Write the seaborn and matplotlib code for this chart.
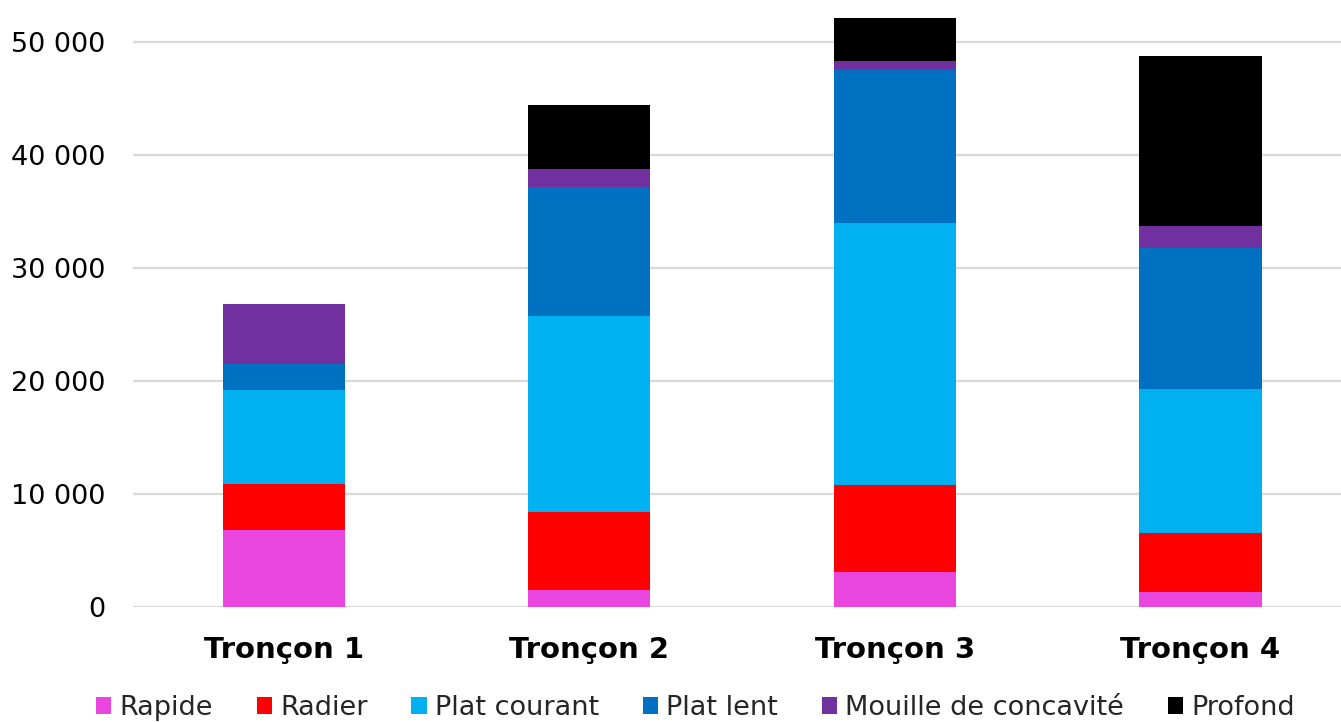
import matplotlib
matplotlib.use("Agg")
import matplotlib.pyplot as plt
import matplotlib.ticker as mticker
from matplotlib.patches import Patch
import numpy as np
import pandas as pd
import seaborn as sns

# Donnees (surfaces par faciès)
troncons = ["Tronçon 1", "Tronçon 2", "Tronçon 3", "Tronçon 4"]
series = ["Rapide", "Radier", "Plat courant", "Plat lent", "Mouille de concavité", "Profond"]
rapide = [6800, 1500, 3100, 1300]
radier = [4050, 6900, 7700, 5250]
plat_courant = [8350, 17350, 23200, 12750]
plat_lent = [2300, 11400, 13550, 12500]
mouille = [5300, 1600, 750, 1950]
profond = [0, 5650, 3850, 15000]
couleurs = ["#EA46DE", "#FF0000", "#00B0F0", "#0070C0", "#7030A0", "#000000"]

valeurs = [rapide, radier, plat_courant, plat_lent, mouille, profond]
cumul = np.cumsum(np.array(valeurs), axis=0)

sns.set_theme(style="white")
plt.rcParams["font.family"] = ["DejaVu Sans"]

fig = plt.figure(figsize=(13.41, 7.22), dpi=100)
ax = fig.add_axes([133 / 1341, 115 / 722, 1 - 133 / 1341, 1 - 115 / 722])

# Barres empilees : on dessine les cumuls du plus haut au plus bas
for i in range(len(series) - 1, -1, -1):
    df = pd.DataFrame({"Tronçon": troncons, "Valeur": cumul[i]})
    sns.barplot(data=df, x="Tronçon", y="Valeur", color=couleurs[i],
                width=0.4, linewidth=0, saturation=1, ax=ax, zorder=3)

ax.set_xlim(-0.493, 3.46)
ax.set_ylim(0, 53700)
ax.set_yticks(range(0, 50001, 10000))
ax.yaxis.set_major_formatter(mticker.FuncFormatter(lambda v, p: f"{int(v):,}".replace(",", " ")))
ax.grid(axis="y", color="#D9D9D9", linewidth=1.6, zorder=0)
ax.grid(axis="x", visible=False)
for s in ax.spines.values():
    s.set_visible(False)
ax.set_xlabel("")
ax.set_ylabel("")
ax.tick_params(axis="y", length=0, pad=20, labelsize=19.5, labelcolor="#000000")
ax.tick_params(axis="x", length=0, pad=21, labelsize=21, labelcolor="#000000")
for lab in ax.get_xticklabels():
    lab.set_fontweight("bold")

handles = [Patch(facecolor=c, edgecolor="none") for c in couleurs]
leg = fig.legend(handles, series, loc="lower left",
                 bbox_to_anchor=(96 / 1341, 1 / 722), ncol=6, frameon=False,
                 fontsize=19.5, handlelength=0.56, handleheight=0.6,
                 handletextpad=0.3, columnspacing=1.62, borderpad=0, borderaxespad=0)

fig.savefig("out.png", dpi=100)
plt.close(fig)
